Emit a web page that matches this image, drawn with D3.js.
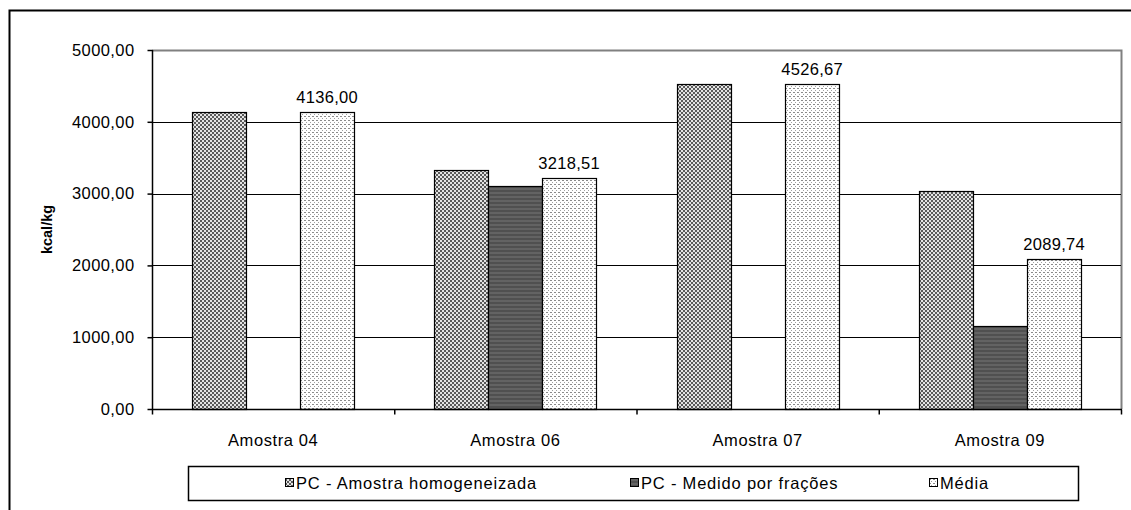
<!DOCTYPE html>
<html>
<head>
<meta charset="utf-8">
<script src="https://cdn.jsdelivr.net/npm/d3@7"></script>
<style>
  html, body { margin: 0; padding: 0; background: #fff; }
  svg { display: block; font-family: "Liberation Sans", Arial, sans-serif; }
</style>
</head>
<body>
<svg id="chart" width="1131" height="510"></svg>
<script>
// Poder calorífico por amostra (kcal/kg)
const categories = ["Amostra 04", "Amostra 06", "Amostra 07", "Amostra 09"];
const seriesNames = ["PC - Amostra homogeneizada", "PC - Medido por frações", "Média"];
const homogeneizada = [4136.00, 3330.02, 4526.67, 3030.00];
const fracoes = [null, 3107.00, null, 1149.48];
const media = [4136.00, 3218.51, 4526.67, 2089.74];
const yTicks = [0, 1000, 2000, 3000, 4000, 5000];
const yTitle = "kcal/kg";

const svg = d3.select("#chart");
const plot = { left: 152, right: 1121, top: 50, bottom: 409 };
const fmt = v => v.toFixed(2).replace(".", ",");

// Fill patterns for each series
const defs = svg.append("defs");
const p1 = defs.append("pattern").attr("id", "pat-hom").attr("patternUnits", "userSpaceOnUse")
  .attr("width", 4).attr("height", 4);
p1.append("rect").attr("width", 4).attr("height", 4).attr("fill", "#e4e4e4");
p1.append("rect").attr("x", 0).attr("y", 0).attr("width", 2).attr("height", 2).attr("fill", "#5a5a5a");
p1.append("rect").attr("x", 2).attr("y", 2).attr("width", 2).attr("height", 2).attr("fill", "#5a5a5a");

const p2 = defs.append("pattern").attr("id", "pat-frac").attr("patternUnits", "userSpaceOnUse")
  .attr("width", 4).attr("height", 4);
p2.append("rect").attr("width", 4).attr("height", 4).attr("fill", "#636363");
p2.append("rect").attr("y", 2).attr("width", 4).attr("height", 2).attr("fill", "#505050");

const p3 = defs.append("pattern").attr("id", "pat-med").attr("patternUnits", "userSpaceOnUse")
  .attr("width", 4).attr("height", 4);
p3.append("rect").attr("width", 4).attr("height", 4).attr("fill", "#ffffff");
p3.append("rect").attr("x", 0).attr("y", 0).attr("width", 2).attr("height", 1).attr("fill", "#8a8a8a");
p3.append("rect").attr("x", 2).attr("y", 2).attr("width", 1).attr("height", 1).attr("fill", "#a0a0a0");

const fills = ["url(#pat-hom)", "url(#pat-frac)", "url(#pat-med)"];
const seriesValues = [homogeneizada, fracoes, media];

// Scales
const x0 = d3.scaleBand().domain(categories).range([plot.left, plot.right]);
const x1 = d3.scaleBand().domain(d3.range(seriesNames.length))
  .range([0, x0.bandwidth()]).paddingInner(0).paddingOuter(0.743);
const y = d3.scaleLinear().domain([0, 5000]).range([plot.bottom, plot.top]);

// Outer chart frame (continues past the right and bottom edges)
svg.append("rect").attr("x", 9.5).attr("y", 10.5).attr("width", 1140).attr("height", 520)
  .attr("fill", "none").attr("stroke", "#000").attr("stroke-width", 2);

// Plot area frame (top and right edges in grey)
svg.append("path")
  .attr("d", `M${plot.left},${plot.top + 0.5}H${plot.right + 0.5}V${plot.bottom}`)
  .attr("fill", "none").attr("stroke", "#808080").attr("stroke-width", 2);

// Horizontal gridlines
svg.append("g").selectAll("line").data(yTicks.filter(t => t > 0 && t < 5000)).join("line")
  .attr("x1", plot.left).attr("x2", plot.right)
  .attr("y1", d => Math.round(y(d)) + 0.5).attr("y2", d => Math.round(y(d)) + 0.5)
  .attr("stroke", "#000").attr("stroke-width", 1);

// Bars
const groups = svg.append("g").selectAll("g").data(categories).join("g")
  .attr("transform", d => `translate(${Math.round(x0(d))},0)`);
groups.selectAll("rect").data((c, i) => seriesValues.map((vals, s) => ({ s, v: vals[i] })).filter(d => d.v != null))
  .join("rect")
  .attr("x", d => Math.round(x1(d.s)) + 0.5)
  .attr("width", Math.round(x1.bandwidth()))
  .attr("y", d => Math.round(y(d.v)) + 0.5)
  .attr("height", d => Math.round(y(0)) - Math.round(y(d.v)))
  .attr("fill", d => fills[d.s])
  .attr("stroke", "#000").attr("stroke-width", 1.2);

// Value labels on the mean bars
groups.append("text")
  .attr("x", (c) => x1(2) + x1.bandwidth() / 2)
  .attr("y", (c, i) => y(media[i]) - 9)
  .attr("text-anchor", "middle")
  .attr("font-size", 16.5).attr("letter-spacing", 0.3).attr("fill", "#000")
  .text((c, i) => fmt(media[i]));

// Y axis
const yAxis = svg.append("g").attr("transform", `translate(${plot.left + 0.5},0)`)
  .call(d3.axisLeft(y).tickValues(yTicks).tickFormat(fmt).tickSize(5).tickPadding(13));
yAxis.select(".domain").attr("stroke", "#000").attr("stroke-width", 1.5)
  .attr("d", `M0,${plot.top}V${plot.bottom}`);
yAxis.selectAll(".tick line").attr("stroke", "#000").attr("stroke-width", 1.5);
yAxis.selectAll(".tick text").attr("font-size", 16.5).attr("letter-spacing", 0.4)
  .attr("fill", "#000").attr("font-family", "'Liberation Sans', Arial, sans-serif");

// X axis
const xAxis = svg.append("g").attr("transform", `translate(0,${plot.bottom + 0.5})`);
xAxis.append("line").attr("x1", plot.left).attr("x2", plot.right + 1)
  .attr("stroke", "#000").attr("stroke-width", 1.5);
xAxis.selectAll("line.tk").data(categories.concat([null])).join("line").attr("class", "tk")
  .attr("x1", (d, i) => i < categories.length ? x0(d) + 0.5 : plot.right + 0.5)
  .attr("x2", (d, i) => i < categories.length ? x0(d) + 0.5 : plot.right + 0.5)
  .attr("y1", 0).attr("y2", 5).attr("stroke", "#000").attr("stroke-width", 1.5);
xAxis.selectAll("text").data(categories).join("text")
  .attr("x", d => x0(d) + x0.bandwidth() / 2)
  .attr("y", 36)
  .attr("text-anchor", "middle").attr("font-size", 16.5).attr("letter-spacing", 0.6)
  .attr("fill", "#000").text(d => d);

// Y axis title
svg.append("text")
  .attr("transform", `translate(52,${(plot.top + plot.bottom) / 2}) rotate(-90)`)
  .attr("text-anchor", "middle").attr("font-size", 14.5).attr("font-weight", "bold")
  .attr("fill", "#000").text(yTitle);

// Legend
const legend = svg.append("g");
legend.append("rect").attr("x", 188.5).attr("y", 466.5).attr("width", 890).attr("height", 34)
  .attr("fill", "#fff").attr("stroke", "#000").attr("stroke-width", 1.5);
const legendX = [285, 630, 929];
const items = legend.selectAll("g").data(seriesNames).join("g")
  .attr("transform", (d, i) => `translate(${legendX[i]},483)`);
items.append("rect").attr("x", 0.5).attr("y", -4.5).attr("width", 8).attr("height", 8)
  .attr("fill", (d, i) => fills[i]).attr("stroke", "#000").attr("stroke-width", 1);
items.append("text").attr("x", 11).attr("y", 6)
  .attr("font-size", 16.5).attr("letter-spacing", 0.8).attr("fill", "#000").text(d => d);
</script>
</body>
</html>
